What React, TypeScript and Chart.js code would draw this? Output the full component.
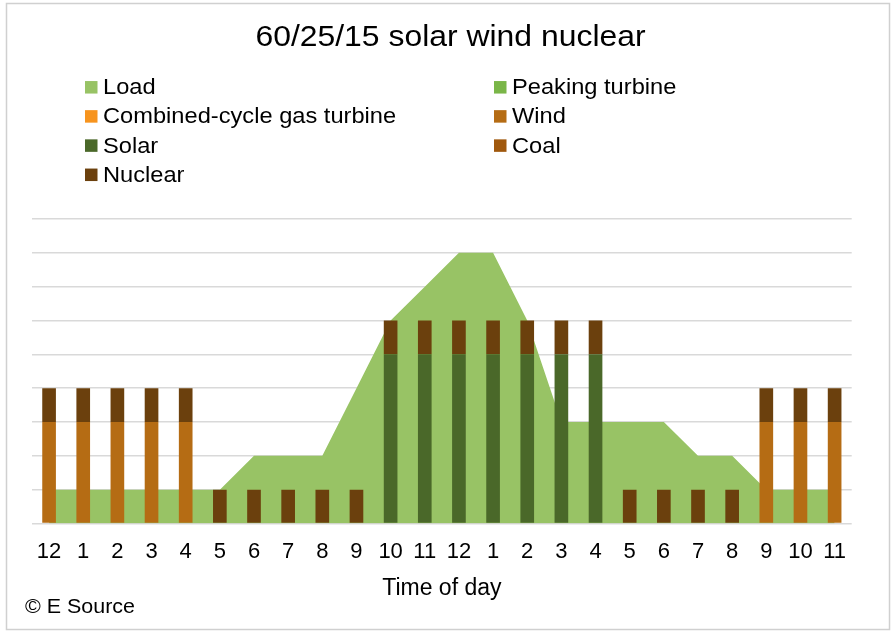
import React, { useEffect, useRef } from "react";
import { Chart, registerables } from "chart.js";

Chart.register(...registerables);

const chartTitle = "60/25/15 solar wind nuclear";
const axisTitle = "Time of day";
const sourceNote = "© E Source";

const hours = ["12", "1", "2", "3", "4", "5", "6", "7", "8", "9", "10", "11", "12", "1", "2", "3", "4", "5", "6", "7", "8", "9", "10", "11"];

const load = [1, 1, 1, 1, 1, 1, 2, 2, 2, 4, 6, 7, 8, 8, 6, 3, 3, 3, 3, 2, 2, 1, 1, 1];
const peakingTurbine = [0, 0, 0, 0, 0, 0, 0, 0, 0, 0, 0, 0, 0, 0, 0, 0, 0, 0, 0, 0, 0, 0, 0, 0];
const combinedCycle = [0, 0, 0, 0, 0, 0, 0, 0, 0, 0, 0, 0, 0, 0, 0, 0, 0, 0, 0, 0, 0, 0, 0, 0];
const wind = [3, 3, 3, 3, 3, 0, 0, 0, 0, 0, 0, 0, 0, 0, 0, 0, 0, 0, 0, 0, 0, 3, 3, 3];
const solar = [0, 0, 0, 0, 0, 0, 0, 0, 0, 0, 5, 5, 5, 5, 5, 5, 5, 0, 0, 0, 0, 0, 0, 0];
const coal = [0, 0, 0, 0, 0, 0, 0, 0, 0, 0, 0, 0, 0, 0, 0, 0, 0, 0, 0, 0, 0, 0, 0, 0];
const nuclear = [1, 1, 1, 1, 1, 1, 1, 1, 1, 1, 1, 1, 1, 1, 1, 1, 1, 1, 1, 1, 1, 1, 1, 1];

const seriesNames = ["Load", "Peaking turbine", "Combined-cycle gas turbine", "Wind", "Solar", "Coal", "Nuclear"];
const seriesColors = ["#98C365", "#7AB648", "#F7941E", "#B56C14", "#4A6829", "#A0580D", "#6B400D"];

const FONT = "'Liberation Sans', Arial, sans-serif";

function stretchText(ctx: CanvasRenderingContext2D, text: string, x: number, y: number, size: number, align: CanvasTextAlign, sx: number) {
  ctx.save();
  ctx.font = `${size}px ${FONT}`;
  ctx.textAlign = align;
  ctx.textBaseline = "alphabetic";
  ctx.fillStyle = "#000";
  ctx.translate(x, y);
  ctx.scale(sx, 1);
  ctx.fillText(text, 0, 0);
  ctx.restore();
}

const decorPlugin = {
  id: "decor",
  beforeDraw(chart: any) {
    const ctx = chart.ctx as CanvasRenderingContext2D;
    ctx.save();
    ctx.fillStyle = "#fff";
    ctx.fillRect(0, 0, chart.width, chart.height);
    ctx.strokeStyle = "#D0D0D0";
    ctx.lineWidth = 1.5;
    ctx.strokeRect(6.5, 3.5, 883, 626);
    ctx.restore();
  },
  afterDraw(chart: any) {
    const ctx = chart.ctx as CanvasRenderingContext2D;
    stretchText(ctx, chartTitle, 450.5, 45.5, 29, "center", 1.1);
    const colX = [85, 494];
    const rowY = [87.3, 116.4, 145.6, 174.8];
    chart.data.datasets.forEach((ds: any, i: number) => {
      const cx = colX[i % 2];
      const cy = rowY[Math.floor(i / 2)];
      ctx.save();
      ctx.fillStyle = ds.backgroundColor;
      ctx.fillRect(cx, cy - 6.25, 12.5, 12.5);
      ctx.restore();
      stretchText(ctx, ds.label, cx + 18, cy + 7, 21.5, "left", 1.1);
    });
    stretchText(ctx, sourceNote, 25, 613, 19.5, "left", 1.1);
  },
};

export default function App() {
  const canvasRef = useRef<HTMLCanvasElement | null>(null);

  useEffect(() => {
    if (!canvasRef.current) return;
    const barSeries = [peakingTurbine, combinedCycle, wind, solar, coal, nuclear];
    const datasets: any[] = [
      {
        type: "line",
        label: seriesNames[0],
        data: load,
        backgroundColor: seriesColors[0],
        borderColor: "rgba(0,0,0,0)",
        borderWidth: 0,
        pointRadius: 0,
        pointHoverRadius: 0,
        fill: "origin",
        tension: 0,
        stack: "load",
        order: 2,
      },
      ...barSeries.map((d, i) => ({
        type: "bar",
        label: seriesNames[i + 1],
        data: d,
        backgroundColor: seriesColors[i + 1],
        borderWidth: 0,
        stack: "gen",
        order: 1,
        barPercentage: 0.4,
        categoryPercentage: 1,
      })),
    ];

    const chart = new Chart(canvasRef.current, {
      type: "bar",
      data: { labels: hours, datasets },
      options: {
        responsive: false,
        animation: false,
        devicePixelRatio: 1,
        layout: { padding: { left: 32, right: 43.3, top: 219, bottom: 30.5 } },
        plugins: {
          legend: { display: false },
          title: { display: false },
          tooltip: { enabled: false },
        },
        scales: {
          x: {
            stacked: true,
            offset: true,
            grid: { display: true, color: "rgba(0,0,0,0)", drawTicks: true, tickLength: 15, tickColor: "rgba(0,0,0,0)" },
            border: { display: false },
            ticks: {
              color: "#000",
              font: { family: FONT, size: 22 },
              padding: 0,
              autoSkip: false,
              maxRotation: 0,
              minRotation: 0,
            },
            title: {
              display: true,
              text: axisTitle,
              color: "#000",
              font: { family: FONT, size: 23 },
              padding: { top: 10, bottom: 0 },
            },
          },
          y: {
            stacked: true,
            min: 0,
            max: 9,
            grid: { color: "#D9D9D9", lineWidth: 1.5, drawTicks: false },
            border: { display: false },
            ticks: { display: false, stepSize: 1 },
          },
        },
      },
      plugins: [decorPlugin],
    });
    return () => chart.destroy();
  }, []);

  return (
    <div style={{ position: "fixed", left: 0, top: 0, width: 895, height: 633, background: "#fff" }}>
      <canvas ref={canvasRef} width={895} height={633} style={{ display: "block", width: 895, height: 633 }} />
    </div>
  );
}
